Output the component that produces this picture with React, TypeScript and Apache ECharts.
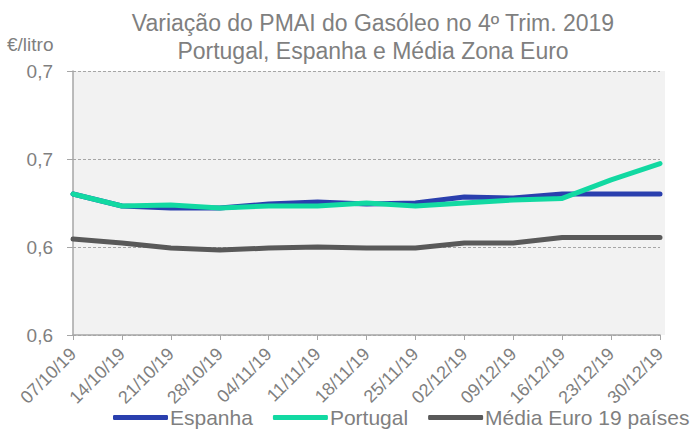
import React, { useEffect, useRef } from "react";
import * as echarts from "echarts";

const categories = ["07/10/19","14/10/19","21/10/19","28/10/19","04/11/19","11/11/19","18/11/19","25/11/19","02/12/19","09/12/19","16/12/19","23/12/19","30/12/19"];
const espanha = [0.6301,0.6233,0.6222,0.6222,0.6244,0.6256,0.6244,0.6250,0.6284,0.6278,0.6301,0.6301,0.6301];
const portugal = [0.6301,0.6233,0.6239,0.6222,0.6233,0.6233,0.6250,0.6233,0.6250,0.6267,0.6276,0.6381,0.6474];
const mediaEuro = [0.6045,0.6023,0.5994,0.5983,0.5994,0.6000,0.5994,0.5994,0.6023,0.6023,0.6054,0.6054,0.6054];
const seriesNames = ["Espanha", "Portugal", "Média Euro 19 países"];
const colors = ["#2a3fae", "#12d9a2", "#595959"];
const titleText = "Variação do PMAI do Gasóleo no 4º Trim. 2019\nPortugal, Espanha e Média Zona Euro";
const unitText = "€/litro";

export default function App() {
  const ref = useRef<HTMLDivElement>(null);
  useEffect(() => {
    if (!ref.current) return;
    const chart = echarts.init(ref.current, null, { renderer: "svg" });
    const font = "Liberation Sans, Arial, sans-serif";
    const grey = "#7f7f7f";
    const data = [espanha, portugal, mediaEuro];
    chart.setOption({
      animation: false,
      textStyle: { fontFamily: font },
      title: {
        text: titleText,
        left: 368,
        textAlign: "center",
        top: 4,
        textStyle: { fontSize: 23, lineHeight: 28, color: grey, fontWeight: "normal", fontFamily: font },
      },
      graphic: [
        { type: "text", left: 7, top: 35, style: { text: unitText, fontSize: 19, fill: grey, fontFamily: font } },
        { type: "rect", z: -1, silent: true, shape: { x: 73, y: 71, width: 592, height: 264 }, style: { fill: "#f2f2f2" } },
      ],
      legend: {
        left: 108,
        top: 402,
        itemWidth: 55,
        itemHeight: 5,
        itemGap: 20,
        icon: "roundRect",
        data: seriesNames,
        textStyle: { fontSize: 21, color: grey, fontFamily: font, padding: [0, 0, 0, -3] },
      },
      grid: { left: 73, right: 37, top: 71, bottom: 97, containLabel: false },
      xAxis: {
        type: "category",
        data: categories,
        boundaryGap: false,
        axisLine: { lineStyle: { color: "#a6a6a6", width: 1.5 } },
        axisTick: { show: true, length: 5, lineStyle: { color: "#a6a6a6" } },
        axisLabel: { rotate: 45, fontSize: 18, color: grey, margin: 16, fontFamily: font, interval: 0 },
      },
      yAxis: {
        type: "value",
        min: 0.55,
        max: 0.70,
        interval: 0.05,
        axisLine: { show: true, lineStyle: { color: "#a6a6a6", width: 1.5 } },
        axisTick: { show: true, length: 6, lineStyle: { color: "#a6a6a6" } },
        axisLabel: {
          fontSize: 19,
          color: grey,
          margin: 20,
          fontFamily: font,
          formatter: (v: number) => (Math.round(v * 10) / 10).toFixed(1).replace(".", ","),
        },
        splitLine: { show: true, lineStyle: { color: "#a6a6a6", type: [3, 2], width: 1 } },
      },
      series: seriesNames.map((name, i) => ({
        name,
        type: "line",
        data: data[i],
        symbol: "none",
        smooth: false,
        z: 3 + (i === 1 ? 1 : 0),
        lineStyle: { width: 5, color: colors[i], cap: "round", join: "round" },
        itemStyle: { color: colors[i] },
      })),
    });
    return () => chart.dispose();
  }, []);
  return <div ref={ref} style={{ width: 697, height: 432, position: "absolute", left: 0, top: 0 }} />;
}
